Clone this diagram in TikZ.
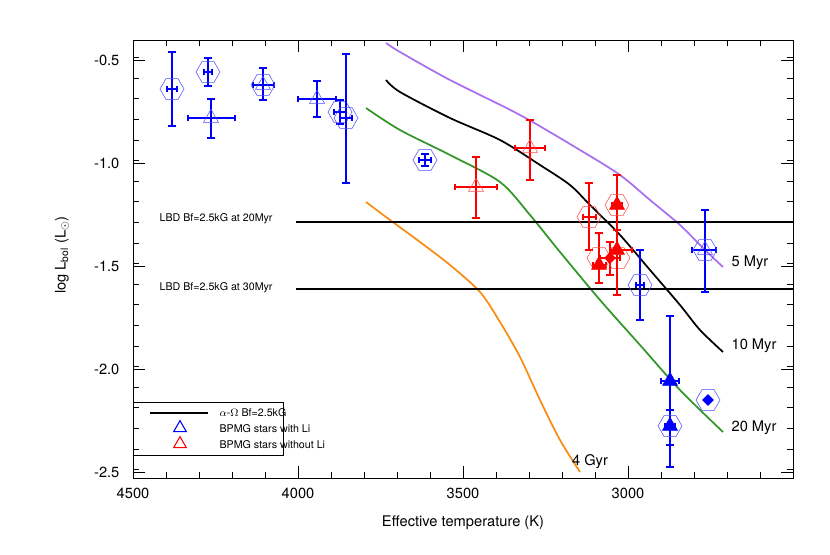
\documentclass[tikz,border=0pt]{standalone}
\usepackage{fontspec}
\setmainfont{TeX Gyre Heros}
\usetikzlibrary{shapes.geometric}
\definecolor{isopurple}{RGB}{170,110,240}
\definecolor{isogreen}{RGB}{50,150,40}
\definecolor{isoorange}{RGB}{250,140,20}

% error bars: x, y, xlo, xhi, ylo, yhi, colour
\newcommand{\errbar}[7]{%
  \draw[#7, thick] (#3,#2) -- (#4,#2) (#3,#2-3) -- (#3,#2+3) (#4,#2-3) -- (#4,#2+3);
  \draw[#7, thick] (#1,#5) -- (#1,#6) (#1-4,#5) -- (#1+4,#5) (#1-4,#6) -- (#1+4,#6);}
\newcommand{\hexmark}[3]{\node[hexa, draw=#3] at (#1,#2) {};}
\newcommand{\trimark}[3]{\node[tri, draw=#3] at (#1,#2) {};}
\newcommand{\ftrimark}[3]{\node[tri, draw=#3, fill=#3] at (#1,#2) {};}

\begin{document}
\begin{tikzpicture}[x=0.75pt, y=-0.75pt,
    hexa/.style={regular polygon, regular polygon sides=6, minimum size=18pt, inner sep=0pt, thin},
    tri/.style={regular polygon, regular polygon sides=3, minimum size=13pt, inner sep=0pt, thin},
    lbl/.style={font=\fontsize{11}{13}\selectfont, inner sep=1pt},
    small/.style={font=\fontsize{8}{10}\selectfont, inner sep=1pt},
    iso/.style={line width=1.3pt, line join=round}]
  \useasboundingbox (0,0) rectangle (830,554);
  % frame and ticks
  \draw (133,40) rectangle (793,478);
  \foreach \i in {0,...,19} {
    \draw (133+\i*33,478) -- (133+\i*33,472) (133+\i*33,40) -- (133+\i*33,46);}
  \foreach \i in {0,...,20} {
    \draw (133,57.5+\i*20.6) -- (139,57.5+\i*20.6) (793,57.5+\i*20.6) -- (787,57.5+\i*20.6);}
  \foreach \t [count=\k from 0] in {4500,4000,3500,3000} {
    \draw (133+\k*165,478) -- (133+\k*165,466) (133+\k*165,40) -- (133+\k*165,52);
    \node[lbl] (xt\k) at (133+\k*165,493) {\t};}
  \foreach \t [count=\k from 0] in {-0.5,-1.0,-1.5,-2.0,-2.5} {
    \draw (133,60+\k*103) -- (145,60+\k*103) (793,60+\k*103) -- (781,60+\k*103);
    \node[lbl, anchor=east] (yt\k) at (121,60+\k*103) {\t};}
  \node[lbl] (xlabel) at (463,523) {Effective temperature (K)};
  \node[lbl, rotate=90] (ylabel) at (62,255) {log L$_{\mathrm{bol}}$ (L$_\odot$)};
  % isochrones
  \draw[iso, isopurple] plot[smooth] coordinates {(386,43) (400,52) (450,80) (520,115) (580,150) (620,175) (650,200) (680,225) (705,250) (723,267)};
  \draw[iso, black] plot[smooth] coordinates {(386,80) (400,92) (450,118) (500,140) (540,165) (570,185) (590,205) (620,235) (650,270) (680,305) (700,330) (723,352)};
  \draw[iso, isogreen] plot[smooth] coordinates {(366,108) (400,130) (450,155) (500,182) (530,215) (560,252) (600,300) (640,345) (680,390) (723,432)};
  \draw[iso, isoorange] plot[smooth] coordinates {(366,202) (390,220) (420,242) (450,265) (480,292) (500,322) (520,357) (540,400) (560,440) (580,472)};
  \node[lbl, anchor=west] (myr5) at (730,263) {5 Myr};
  \node[lbl, anchor=west] (myr10) at (730,346) {10 Myr};
  \node[lbl, anchor=west] (myr20) at (730,428) {20 Myr};
  \node[lbl] (gyr4) at (590,462) {4 Gyr};
  % LBD limits
  \draw[thick] (296,222) -- (793,222);
  \draw[thick] (296,289) -- (793,289);
  \node[small, anchor=west] (lbd20) at (158,219) {LBD Bf=2.5kG at 20Myr};
  \node[small, anchor=west] (lbd30) at (158,288) {LBD Bf=2.5kG at 30Myr};
  % BPMG stars with Li
  \errbar{172}{89}{167}{177}{52}{126}{blue}
  \hexmark{172}{89}{blue!70}
  \errbar{208}{72}{204}{212}{58}{86}{blue}
  \hexmark{208}{72}{blue!70}
  \errbar{211}{118}{188}{235}{99}{138}{blue}
  \trimark{211}{118}{blue!70}
  \errbar{263}{85}{253}{274}{68}{100}{blue}
  \hexmark{263}{85}{blue!70}
  \trimark{263}{85}{blue!70}
  \errbar{317}{99}{298}{336}{81}{117}{blue}
  \trimark{317}{99}{blue!70}
  \errbar{340}{112}{334}{346}{100}{124}{blue}
  \hexmark{340}{112}{blue!70}
  \errbar{346}{118}{340}{352}{54}{183}{blue}
  \hexmark{346}{118}{blue!70}
  \errbar{425}{160}{419}{431}{154}{166}{blue}
  \hexmark{425}{160}{blue!70}
  \errbar{705}{250}{692}{716}{210}{292}{blue}
  \hexmark{705}{250}{blue!70}
  \trimark{705}{250}{blue!70}
  \errbar{640}{285}{636}{644}{250}{320}{blue}
  \hexmark{640}{285}{blue!70}
  \errbar{670}{381}{661}{679}{316}{467}{blue}
  \ftrimark{670}{381}{blue}
  \errbar{670}{426}{665}{675}{410}{445}{blue}
  \hexmark{670}{426}{blue!70}
  \ftrimark{670}{426}{blue}
  \hexmark{708}{400}{blue!70}
  \node[diamond, fill=blue, minimum size=9pt, inner sep=0pt] at (708,400) {};
  % BPMG stars without Li
  \errbar{476}{187}{455}{497}{157}{218}{red}
  \trimark{476}{187}{red!70}
  \errbar{530}{148}{515}{545}{120}{180}{red}
  \trimark{530}{148}{red!70}
  \errbar{589}{217}{583}{596}{183}{250}{red}
  \hexmark{589}{217}{red!70}
  \errbar{617}{205}{612}{622}{175}{295}{red}
  \hexmark{617}{205}{red!70}
  \ftrimark{617}{205}{red}
  \errbar{599}{265}{593}{606}{233}{283}{red}
  \hexmark{599}{258}{red!70}
  \ftrimark{599}{265}{red}
  \errbar{610}{258}{600}{620}{242}{275}{red}
  \hexmark{618}{258}{red!70}
  \ftrimark{617}{250}{red}
  \errbar{617}{250}{610}{632}{230}{295}{red}
  \node[diamond, fill=red, minimum size=9pt, inner sep=0pt] at (610,258) {};
  % legend
  \draw (133,402) rectangle (283,455);
  \draw[line width=1.3pt] (150,413) -- (208,413);
  \node[small, anchor=west] (legiso) at (218,413) {$\alpha$-$\Omega$ Bf=2.5kG};
  \node[tri, draw=blue, thick, minimum size=11pt] (legblue) at (180,428) {};
  \node[small, anchor=west] (legli) at (218,429) {BPMG stars with Li};
  \node[tri, draw=red, thick, minimum size=11pt] (legred) at (180,444) {};
  \node[small, anchor=west] (legnoli) at (218,445) {BPMG stars without Li};
\end{tikzpicture}
\end{document}
